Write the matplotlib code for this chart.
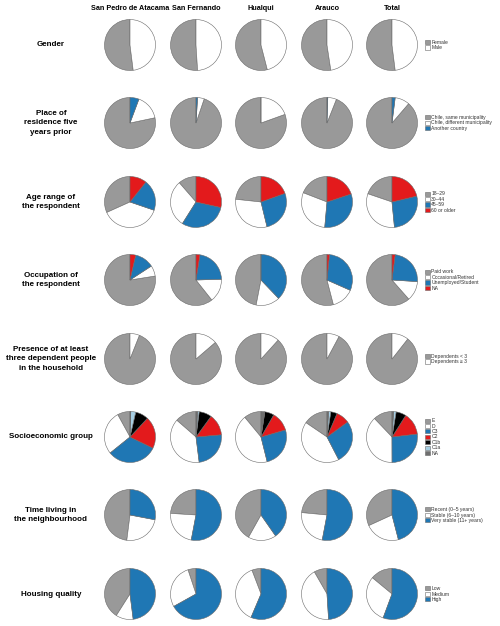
import matplotlib
matplotlib.use("Agg")
import matplotlib.pyplot as plt
from matplotlib.patches import Patch

plt.rcParams['font.family'] = ['Liberation Sans', 'DejaVu Sans']

# columns (communes)
places = ["San Pedro de Atacama", "San Fernando", "Hualqui", "Arauco", "Total"]

# row titles
variables = [
    "Gender",
    "Place of\nresidence five\nyears prior",
    "Age range of\nthe respondent",
    "Occupation of\nthe respondent",
    "Presence of at least\nthree dependent people\nin the household",
    "Socioeconomic group",
    "Time living in\nthe neighbourhood",
    "Housing quality",
]

gender_labels = ["Female", "Male"]
gender = [[52, 48], [51, 49], [54, 46], [52.4, 47.6], [52, 48]]

residence_labels = ["Chile, same municipality", "Chile, different municipality", "Another country"]
residence = [[78.3, 16, 5.7], [94.8, 4.2, 1], [80.5, 19.5, 0], [94, 5.5, 0.5], [88.7, 9.3, 2]]

age_labels = ["18\u201329", "30\u201344", "45\u201359", "60 or older"]
age = [[31.7, 38, 19.5, 10.7], [11.4, 29.7, 30.5, 28.5], [23.3, 30.5, 26.7, 19.5],
       [19.1, 29.5, 31.5, 19.9], [19.8, 31.8, 27.2, 21.3]]

occupation_labels = ["Paid work", "Occasional/Retired", "Unemployed/Student", "NA"]
occupation = [[77.5, 6.7, 12.2, 3.6], [60.6, 14.8, 22, 2.5], [47, 15.2, 37.9, 0],
              [54, 14.3, 30, 1.6], [61.5, 12.5, 24, 2]]

dependents_labels = ["Dependents < 3", "Dependents \u2265 3"]
dependents = [[94, 6], [86.3, 13.7], [88.3, 11.7], [92.2, 7.8], [89.4, 10.6]]

ses_labels = ["E", "D", "C3", "C2", "C1b", "C1a", "NA"]
ses = [[8, 27.8, 32, 20.3, 8.3, 3.1, 0.5],
       [13.6, 38.4, 24.4, 13.6, 8, 1, 1],
       [11, 42.9, 25.6, 12.2, 5.9, 0, 2.4],
       [15.5, 42.1, 27.4, 8.6, 4, 1.4, 1],
       [12.1, 37.9, 26.8, 14.1, 6.4, 1.6, 1]]

time_labels = ["Recent (0\u20135 years)", "Stable (6\u201310 years)", "Very stable (11+ years)"]
time_nb = [[48, 24, 28], [24, 23, 53], [41.9, 17.8, 40.3], [23.5, 23.5, 53], [31.8, 22.2, 45.9]]

housing_labels = ["Low", "Medium", "High"]
housing = [[41, 11, 48], [5.1, 28, 66.9], [5.8, 37.8, 56.4], [8.3, 42.7, 49], [14, 30.3, 55.6]]

GREY = "#999999"
WHITE = "#ffffff"
BLUE = "#1f77b4"
RED = "#e31a1c"
BLACK = "#000000"
LBLUE = "#a6cee3"
DGREY = "#6f6f6f"

rows = [
    (gender, gender_labels, [GREY, WHITE]),
    (residence, residence_labels, [GREY, WHITE, BLUE]),
    (age, age_labels, [GREY, WHITE, BLUE, RED]),
    (occupation, occupation_labels, [GREY, WHITE, BLUE, RED]),
    (dependents, dependents_labels, [GREY, WHITE]),
    (ses, ses_labels, [GREY, WHITE, BLUE, RED, BLACK, LBLUE, DGREY]),
    (time_nb, time_labels, [GREY, WHITE, BLUE]),
    (housing, housing_labels, [GREY, WHITE, BLUE]),
]

W, H = 500, 626
fig = plt.figure(figsize=(W / 100, H / 100), dpi=100)

col_x = [130, 196, 261, 327, 392]
row_y = [45, 123, 202, 280, 359, 437, 515, 594]
r = 26

for j, name in enumerate(places):
    fig.text(col_x[j] / W, 1 - 8 / H, name, ha="center", va="center",
             fontsize=5.2, fontweight="bold")

for i, (data, labels, colors) in enumerate(rows):
    cy = row_y[i]
    fig.text(51 / W, 1 - cy / H, variables[i], ha="center", va="center",
             fontsize=5.8, fontweight="bold", linespacing=1.55)
    for j in range(len(places)):
        cx = col_x[j]
        ax = fig.add_axes([(cx - r) / W, 1 - (cy + r) / H, 2 * r / W, 2 * r / H])
        ax.pie(data[j], colors=colors, startangle=90, counterclock=True,
               wedgeprops=dict(edgecolor="#6a6a6a", linewidth=0.4))
        ax.set_xlim(-1.02, 1.02)
        ax.set_ylim(-1.02, 1.02)
        ax.set_aspect("equal")
    handles = [Patch(facecolor=c, edgecolor="#6a6a6a", linewidth=0.4) for c in colors]
    fig.legend(handles, labels, loc="center left",
               bbox_to_anchor=(425 / W, 1 - cy / H), frameon=False,
               fontsize=3.6, handlelength=0.9, handleheight=0.9,
               handletextpad=0.35, labelspacing=0.08, borderpad=0,
               borderaxespad=0, labelcolor="#333333")

fig.savefig("out.png", dpi=100)
